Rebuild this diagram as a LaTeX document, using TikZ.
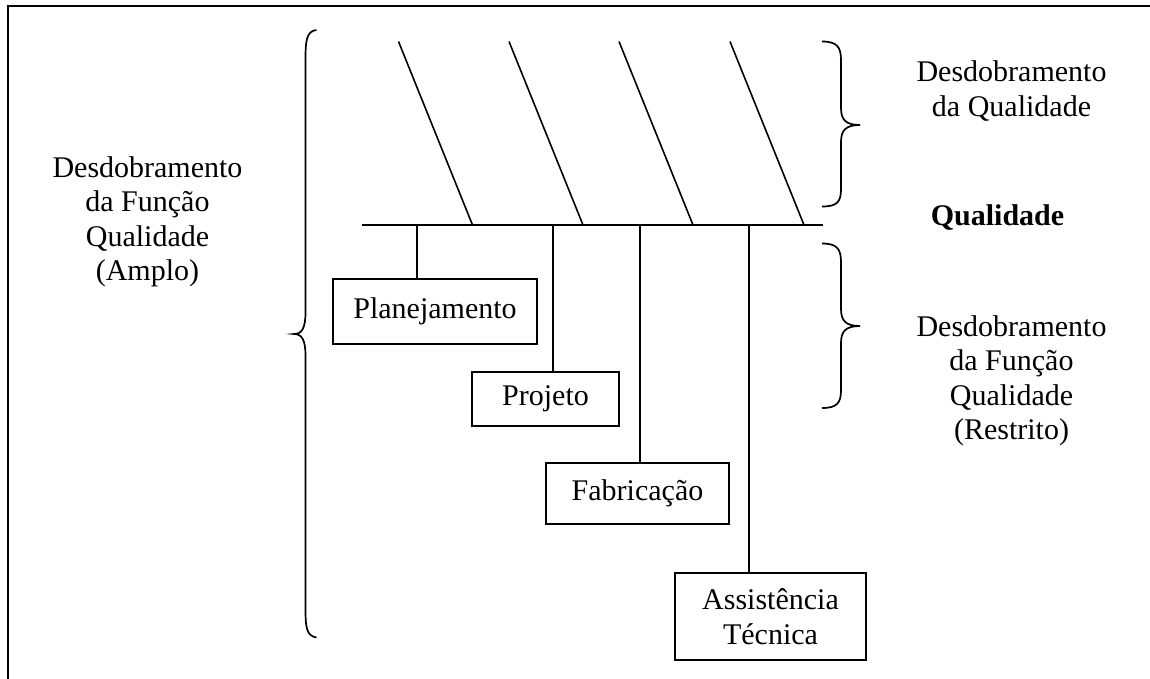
\documentclass[tikz,border=0pt]{standalone}
\usepackage{fontspec}
\setmainfont{Liberation Serif}
\begin{document}
\begin{tikzpicture}[x=1pt,y=-1pt,
  txt/.style={align=center,font=\fontsize{30}{34.5}\selectfont,inner sep=0pt},
  boxnode/.style={draw,line width=1.7pt,align=center,inner sep=0pt,font=\fontsize{30}{34.5}\selectfont},
  ln/.style={line width=1.6pt},
  br/.style={line width=1.7pt}]
\useasboundingbox (0,0) rectangle (1150,678);
% frame (top and left edges)
\draw[line width=2.4pt] (8,679) -- (8,6) -- (1151,6);

% spine
\coordinate (spL) at (362,225);
\coordinate (spR) at (823,225);
\draw[ln] (spL) -- (spR);

% diagonal bones
\coordinate (t1) at (398.5,41.5); \coordinate (b1) at (472.5,225);
\coordinate (t2) at (509,41.5);   \coordinate (b2) at (583,225);
\coordinate (t3) at (619,41.5);   \coordinate (b3) at (693,225);
\coordinate (t4) at (730,41.5);   \coordinate (b4) at (804,225);
\draw[ln] (t1) -- (b1);
\draw[ln] (t2) -- (b2);
\draw[ln] (t3) -- (b3);
\draw[ln] (t4) -- (b4);

% boxes
\node[boxnode,minimum width=204pt,minimum height=65pt] (plan) at (435,311.5) {Planejamento};
\node[boxnode,minimum width=147pt,minimum height=54pt] (proj) at (545.5,399) {Projeto};
\node[boxnode,minimum width=183pt,minimum height=61pt] (fab) at (637.5,493.5) {Fabricação};
\node[boxnode,minimum width=191pt,minimum height=87pt] (assist) at (770.5,616.5) {Assistência\\Técnica};

% drops
\coordinate (d1) at (417,225);
\coordinate (d2) at (553,225);
\coordinate (d3) at (640,225);
\coordinate (d4) at (749,225);
\draw[ln] (d1) -- (d1 |- plan.north);
\draw[ln] (d2) -- (d2 |- proj.north);
\draw[ln] (d3) -- (d3 |- fab.north);
\draw[ln] (d4) -- (d4 |- assist.north);

% left big brace {
\draw[br] (316.5,30) .. controls (306,31) and (305.5,42) .. (305.5,60)
  -- (305.5,312) .. controls (305.5,328) and (302,334) .. (294,334)
  .. controls (302,334) and (305.5,340) .. (305.5,356)
  -- (305.5,608) .. controls (305.5,626) and (306,636) .. (316.5,637.5);

% upper right brace }
\draw[br] (822,41.5) .. controls (837,41.5) and (841,47) .. (841,60)
  -- (841,108) .. controls (841,120) and (846,125) .. (860,125)
  .. controls (846,125) and (841,130) .. (841,142)
  -- (841,189) .. controls (841,202) and (837,206.5) .. (822,206.5);

% lower right brace }
\draw[br] (822,243.5) .. controls (837,243.5) and (841,249) .. (841,262)
  -- (841,309) .. controls (841,321) and (846,326) .. (860,326)
  .. controls (846,326) and (841,331) .. (841,343)
  -- (841,390) .. controls (841,403) and (837,408) .. (822,408);

% labels
\node[txt] (lblL) at (147.5,222) {Desdobramento\\da Função\\Qualidade\\(Amplo)};
\node[txt] (lblQ) at (1011.5,91) {Desdobramento\\da Qualidade};
\node[txt,font=\fontsize{30}{34.5}\selectfont\bfseries] (lblB) at (997.5,218) {Qualidade};
\node[txt] (lblR) at (1011.5,381) {Desdobramento\\da Função\\Qualidade\\(Restrito)};
\end{tikzpicture}
\end{document}
